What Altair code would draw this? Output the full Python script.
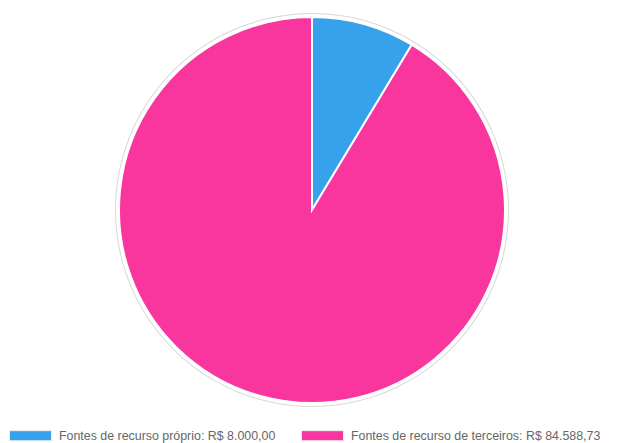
import altair as alt
import pandas as pd

categories = ["Fontes de recurso próprio", "Fontes de recurso de terceiros"]
values = [8000.00, 84588.73]
value_labels = ["R$ 8.000,00", "R$ 84.588,73"]
colors = ["#36A2EB", "#F8369E"]

labels = [f"{c}: {v}" for c, v in zip(categories, value_labels)]
df = pd.DataFrame({"label": labels, "value": values, "order": [0, 1]})

CX, CY = 304, 202

base = alt.Chart(df)

shadow = base.mark_arc(radius=197, color="#d8d8d8").encode(
    theta=alt.Theta("value:Q", stack=True),
    order=alt.Order("order:Q"),
    x=alt.value(CX), y=alt.value(CY),
)
white = base.mark_arc(radius=196, color="white").encode(
    theta=alt.Theta("value:Q", stack=True),
    order=alt.Order("order:Q"),
    x=alt.value(CX), y=alt.value(CY),
)
pie = base.mark_arc(radius=193, stroke="white", strokeWidth=2).encode(
    theta=alt.Theta("value:Q", stack=True),
    order=alt.Order("order:Q"),
    x=alt.value(CX), y=alt.value(CY),
    color=alt.Color(
        "label:N",
        scale=alt.Scale(domain=labels, range=colors),
        sort=labels,
        legend=alt.Legend(
            title=None,
            orient="none",
            direction="horizontal",
            legendX=1,
            legendY=406,
            symbolType="M-1,-0.24H1V0.24H-1Z",
            symbolSize=1764,
            symbolStrokeColor="#eeeeee",
            symbolStrokeWidth=1,
            symbolOpacity=1,
            labelFont="Liberation Sans",
            labelFontSize=12.4,
            labelColor="#666666",
            labelOffset=7,
            labelLimit=400,
            columnPadding=23,
        ),
    ),
)

chart = alt.layer(shadow, white, pie).properties(
    width=601, height=435,
    autosize=alt.AutoSizeParams(type="none"),
    padding=0,
).configure_view(stroke=None)

chart.save("out.html", embed_options={"renderer": "svg", "actions": False})
